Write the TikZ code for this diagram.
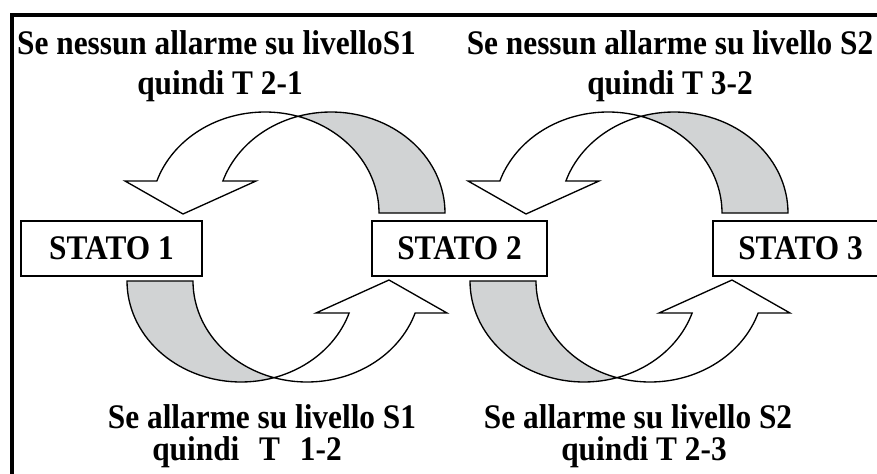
\documentclass[tikz,border=0pt]{standalone}
\usepackage{fontspec}
\setmainfont{Liberation Serif}
\definecolor{backgray}{RGB}{209,211,212}
\newcommand{\bentarrow}{%
  \path[backface] plot[domain=73.17:0, samples=40, variable=\t] ({265+114*cos(\t)},{213-101*sin(\t)})
     -- plot[domain=0:106.83, samples=40, variable=\t] ({331+114*cos(\t)},{213-101*sin(\t)}) -- cycle;
  \path[frontface] plot[domain=161.53:73.17, samples=50, variable=\t] ({265+114*cos(\t)},{213-101*sin(\t)})
     -- plot[domain=106.83:161.53, samples=30, variable=\t] ({331+114*cos(\t)},{213-101*sin(\t)})
     -- (256,181) -- (183,214) -- (125,181) -- cycle;
}
\newcommand{\tallt}[1]{\scalebox{1}[1.1]{#1}}
\begin{document}
\begin{tikzpicture}[x=0.75pt,y=-0.75pt,
  lbl/.style={font=\fontsize{23.5}{28}\selectfont\bfseries, inner sep=0pt, anchor=base},
  statebox/.style={draw, line width=1.5pt, minimum height=41.25pt, inner sep=0pt,
    font=\fontsize{23.5}{28}\selectfont\bfseries},
  frontface/.style={draw, fill=white, line width=1pt},
  backface/.style={draw, fill=backgray, line width=1pt},
  frame/.style={draw, line width=2.6pt}]
\useasboundingbox (0,0) rectangle (877,474);
\clip (0,0) rectangle (877,474);
\fill[white] (0,0) rectangle (877,474);
\draw[frame] (12,15) rectangle (900,500);

\bentarrow
\begin{scope}[shift={(343,0)}]\bentarrow\end{scope}
\begin{scope}[rotate around={180:(286,247)}]\bentarrow\end{scope}
\begin{scope}[shift={(343,0)}]\begin{scope}[rotate around={180:(286,247)}]\bentarrow\end{scope}\end{scope}

\node[statebox, minimum width=135.75pt] (s1) at (111.5,248.5) {\tallt{STATO 1}};
\node[statebox, minimum width=131.25pt] (s2) at (459.5,248.5) {\tallt{STATO 2}};
\node[statebox, minimum width=131.25pt] (s3) at (800.5,248.5) {\tallt{STATO 3}};

\node[lbl] (t1a) at (216.5,55) {\tallt{Se nessun allarme su livelloS1}};
\node[lbl] (t1b) at (220,95) {\tallt{quindi T 2-1}};
\node[lbl] (t2a) at (670,55) {\tallt{Se nessun allarme su livello S2}};
\node[lbl] (t2b) at (670,95) {\tallt{quindi T 3-2}};
\node[lbl] (b1a) at (262,428) {\tallt{Se allarme su livello S1}};
\node[lbl] (b1b) at (247,460) {\tallt{quindi\hspace{9pt} T\hspace{9pt} 1-2}};
\node[lbl] (b2a) at (638,428) {\tallt{Se allarme su livello S2}};
\node[lbl] (b2b) at (644,460) {\tallt{quindi T 2-3}};
\end{tikzpicture}
\end{document}
